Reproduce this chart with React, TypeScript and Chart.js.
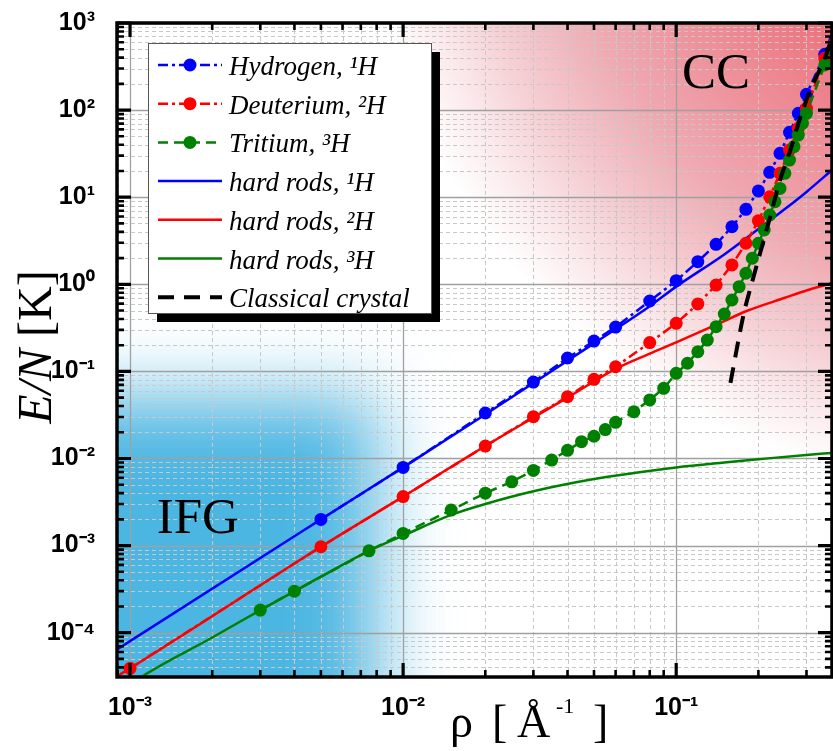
import React, { useEffect, useRef } from 'react';
import { Chart, registerables } from 'chart.js';

Chart.register(...registerables);

// ---------- axis ranges & tick labels ----------
const X_MIN = 8.96e-4;
const X_MAX = 0.372;
const Y_MIN = 3.1e-5;
const Y_MAX = 1000;

const xTickValues = [1e-3, 1e-2, 1e-1];
const xTickLabels = ['10⁻³', '10⁻²', '10⁻¹'];
const yTickValues = [1e-4, 1e-3, 1e-2, 1e-1, 1, 10, 100, 1000];
const yTickLabels = ['10⁻⁴', '10⁻³', '10⁻²', '10⁻¹', '10⁰', '10¹', '10²', '10³'];

const seriesLabels = [
  'Hydrogen, ¹H',
  'Deuterium, ²H',
  'Tritium, ³H',
  'hard rods, ¹H',
  'hard rods, ²H',
  'hard rods, ³H',
  'Classical crystal',
];

// ---------- data (ρ in Å⁻¹, E/N in K) ----------
const hydrogenRho = [0.005, 0.01, 0.02, 0.03, 0.04, 0.05, 0.06, 0.08, 0.1, 0.12, 0.14, 0.16, 0.18, 0.2, 0.22, 0.24, 0.26, 0.28, 0.3, 0.35, 0.4];
const hydrogenE = [0.002, 0.0079, 0.0333, 0.0755, 0.1426, 0.223, 0.323, 0.643, 1.1, 1.82, 2.88, 4.58, 7.26, 11.8, 19.3, 31.9, 55.6, 91.8, 151.7, 437, 1500];

const deuteriumRho = [0.001, 0.005, 0.01, 0.02, 0.03, 0.04, 0.05, 0.06, 0.08, 0.1, 0.12, 0.14, 0.16, 0.18, 0.2, 0.22, 0.24, 0.26, 0.28, 0.3, 0.35, 0.4];
const deuteriumE = [3.9e-5, 9.7e-4, 3.65e-3, 0.0139, 0.0302, 0.0513, 0.081, 0.113, 0.214, 0.356, 0.594, 0.98, 1.67, 2.96, 5.37, 10.1, 18.8, 34.8, 61.8, 105, 394, 1400];

const tritiumRho = [0.003, 0.004, 0.0075, 0.01, 0.015, 0.02, 0.025, 0.03, 0.035, 0.04, 0.045, 0.05, 0.055, 0.06, 0.07, 0.08, 0.09, 0.1, 0.11, 0.12, 0.13, 0.14, 0.15, 0.16, 0.17, 0.18, 0.19, 0.2, 0.21, 0.22, 0.23, 0.24, 0.25, 0.26, 0.27, 0.28, 0.29, 0.3, 0.35, 0.4];
const tritiumE = [1.82e-4, 3.0e-4, 8.7e-4, 1.38e-3, 2.56e-3, 4.0e-3, 5.4e-3, 7.3e-3, 9.6e-3, 0.0124, 0.0156, 0.018, 0.0215, 0.026, 0.0344, 0.047, 0.064, 0.095, 0.124, 0.168, 0.229, 0.326, 0.456, 0.66, 0.94, 1.34, 1.99, 2.96, 4.2, 6.25, 8.87, 12.6, 18.8, 26.7, 38, 51.7, 70.5, 91.8, 330, 1300];

const rodsHRho = [0.0009, 0.001, 0.005, 0.01, 0.02, 0.05, 0.08, 0.1, 0.15, 0.2, 0.25, 0.3, 0.372];
const rodsHE = [6.45e-5, 8.0e-5, 2.0e-3, 7.9e-3, 0.032, 0.21, 0.56, 0.94, 2.2, 4.3, 7.3, 11.5, 20.5];

const rodsDRho = [0.0009, 0.001, 0.005, 0.01, 0.02, 0.03, 0.04, 0.06, 0.08, 0.1, 0.145, 0.18, 0.25, 0.3, 0.372];
const rodsDE = [3.2e-5, 3.9e-5, 9.7e-4, 3.65e-3, 0.0139, 0.0295, 0.05, 0.107, 0.16, 0.215, 0.36, 0.49, 0.7, 0.85, 1.03];

const rodsTRho = [0.001, 0.0011, 0.002, 0.003, 0.005, 0.0075, 0.01, 0.015, 0.02, 0.03, 0.05, 0.07, 0.1, 0.15, 0.2, 0.3, 0.372];
const rodsTE = [2.5e-5, 3.1e-5, 8.8e-5, 1.82e-4, 4.4e-4, 8.7e-4, 1.3e-3, 2.25e-3, 3.0e-3, 4.2e-3, 5.8e-3, 6.8e-3, 7.9e-3, 9.0e-3, 9.8e-3, 0.011, 0.0116];

const crystalRho = [0.158, 0.1764, 0.192, 0.221, 0.24, 0.262, 0.284, 0.31, 0.352, 0.372];
const crystalE = [0.0737, 0.445, 1.22, 5.97, 15.7, 34.8, 80.5, 170, 410, 680];

// region annotations (data coordinates)
const ifgLabelPos = { x: 1.77e-3, y: 1.4e-3 };
const ccLabelPos = { x: 0.14, y: 179 };
const ifgEdge = { x: 8.0e-3, y: 0.05 };

const BLUE = '#0000ff';
const RED = '#ff0000';
const GREEN = '#008000';

const pts = (xs: number[], ys: number[]) => xs.map((x, i) => ({ x, y: ys[i] }));

const labelFor = (vals: number[], labels: string[], v: number) => {
  const i = vals.findIndex((t) => Math.abs(t - v) / t < 1e-6);
  return i >= 0 ? labels[i] : '';
};

const isMajor = (v: number) => {
  const l = Math.log10(v);
  return Math.abs(l - Math.round(l)) < 1e-9;
};

const gridValues = (min: number, max: number) => {
  const out: number[] = [];
  for (let d = Math.floor(Math.log10(min)); d <= Math.ceil(Math.log10(max)); d++) {
    for (let m = 1; m <= 9; m++) {
      const v = m * Math.pow(10, d);
      if (v >= min * 0.9999 && v <= max * 1.0001) out.push(v);
    }
  }
  return out;
};

const bgPlugin = {
  id: 'bgRegions',
  beforeDraw(chart: any) {
    const { ctx, chartArea: a, scales } = chart;
    const xs = scales.x;
    const ys = scales.y;
    ctx.save();
    ctx.fillStyle = '#ffffff';
    ctx.fillRect(0, 0, chart.width, chart.height);
    ctx.beginPath();
    ctx.rect(a.left, a.top, a.right - a.left, a.bottom - a.top);
    ctx.clip();
    // CC (red) region, radial glow from beyond the upper-right corner
    const cx = a.right + 168;
    const cy = a.top - 173;
    const R = 640;
    const g = ctx.createRadialGradient(cx, cy, 0, cx, cy, R);
    g.addColorStop(0, 'rgb(236,105,115)');
    g.addColorStop(0.37, 'rgb(237,112,122)');
    g.addColorStop(0.58, 'rgb(238,150,160)');
    g.addColorStop(0.69, 'rgb(239,170,178)');
    g.addColorStop(0.83, 'rgb(245,207,212)');
    g.addColorStop(0.92, 'rgb(251,234,236)');
    g.addColorStop(1, 'rgb(255,255,255)');
    ctx.fillStyle = g;
    ctx.fillRect(a.left, a.top, a.right - a.left, a.bottom - a.top);
    // IFG (blue) region
    const bx = xs.getPixelForValue(ifgEdge.x);
    const by = ys.getPixelForValue(ifgEdge.y);
    ctx.filter = 'blur(38px)';
    ctx.fillStyle = 'rgb(76,182,226)';
    ctx.fillRect(a.left - 200, by, bx - (a.left - 200), a.bottom + 200 - by);
    ctx.filter = 'none';
    ctx.restore();
  },
};

const gridPlugin = {
  id: 'logGrid',
  beforeDatasetsDraw(chart: any) {
    const { ctx, chartArea: a, scales } = chart;
    const xs = scales.x;
    const ys = scales.y;
    ctx.save();
    ctx.beginPath();
    ctx.rect(a.left, a.top, a.right - a.left, a.bottom - a.top);
    ctx.clip();
    const drawLine = (x1: number, y1: number, x2: number, y2: number, major: boolean) => {
      ctx.beginPath();
      ctx.strokeStyle = major ? 'rgb(160,160,160)' : 'rgb(200,200,200)';
      ctx.lineWidth = major ? 1.3 : 1;
      ctx.setLineDash(major ? [] : [4, 3]);
      ctx.moveTo(x1, y1);
      ctx.lineTo(x2, y2);
      ctx.stroke();
    };
    gridValues(X_MIN, X_MAX).forEach((v) => {
      const p = Math.round(xs.getPixelForValue(v)) + 0.5;
      drawLine(p, a.top, p, a.bottom, isMajor(v));
    });
    gridValues(Y_MIN, Y_MAX).forEach((v) => {
      const p = Math.round(ys.getPixelForValue(v)) + 0.5;
      drawLine(a.left, p, a.right, p, isMajor(v));
    });
    ctx.restore();
  },
};

const annotationsPlugin = {
  id: 'annotations',
  afterDatasetsDraw(chart: any) {
    const { ctx, scales, chartArea: a } = chart;
    const xs = scales.x;
    const ys = scales.y;
    ctx.save();
    ctx.fillStyle = '#000';
    ctx.textAlign = 'center';
    ctx.textBaseline = 'alphabetic';
    ctx.font = '51px "Liberation Serif", "Times New Roman", serif';
    ctx.fillText('IFG', xs.getPixelForValue(ifgLabelPos.x), ys.getPixelForValue(ifgLabelPos.y));
    ctx.fillText('CC', xs.getPixelForValue(ccLabelPos.x), ys.getPixelForValue(ccLabelPos.y));

    // legend
    const bx = a.left + 31;
    const by = a.top + 20;
    const bw = 283;
    const bh = 270;
    ctx.fillStyle = '#000';
    ctx.fillRect(bx + 9, by + 9, bw, bh);
    ctx.fillStyle = '#fff';
    ctx.fillRect(bx, by, bw, bh);
    ctx.strokeStyle = '#555';
    ctx.lineWidth = 1;
    ctx.strokeRect(bx + 0.5, by + 0.5, bw, bh);
    ctx.textAlign = 'left';
    chart.data.datasets.forEach((ds: any, i: number) => {
      const yy = by + 22 + i * 38.7;
      ctx.setLineDash(ds.borderDash || []);
      ctx.strokeStyle = ds.borderColor;
      ctx.lineWidth = ds.borderWidth;
      ctx.beginPath();
      ctx.moveTo(bx + 10, yy);
      ctx.lineTo(bx + 74, yy);
      ctx.stroke();
      ctx.setLineDash([]);
      if (ds.pointRadius > 0) {
        ctx.fillStyle = ds.pointBackgroundColor;
        ctx.beginPath();
        ctx.arc(bx + 42, yy, ds.pointRadius, 0, Math.PI * 2);
        ctx.fill();
      }
      ctx.fillStyle = '#000';
      ctx.font = 'italic 27px "Liberation Serif", "Times New Roman", serif';
      ctx.fillText(ds.label, bx + 81, yy + 10);
    });
    ctx.restore();
  },
};

const framePlugin = {
  id: 'frame',
  afterDraw(chart: any) {
    const { ctx, chartArea: a, scales } = chart;
    const xs = scales.x;
    const ys = scales.y;
    ctx.save();
    ctx.setLineDash([]);
    ctx.strokeStyle = '#000';
    // ticks (inward, all four sides)
    gridValues(X_MIN, X_MAX).forEach((v) => {
      const p = xs.getPixelForValue(v);
      const major = isMajor(v);
      const len = major ? 14 : 7;
      ctx.lineWidth = major ? 3.2 : 2.6;
      ctx.beginPath();
      ctx.moveTo(p, a.bottom);
      ctx.lineTo(p, a.bottom - len);
      ctx.moveTo(p, a.top);
      ctx.lineTo(p, a.top + len);
      ctx.stroke();
    });
    gridValues(Y_MIN, Y_MAX).forEach((v) => {
      const p = ys.getPixelForValue(v);
      const major = isMajor(v);
      const len = major ? 14 : 7;
      ctx.lineWidth = major ? 3.2 : 2.6;
      ctx.beginPath();
      ctx.moveTo(a.left, p);
      ctx.lineTo(a.left + len, p);
      ctx.moveTo(a.right, p);
      ctx.lineTo(a.right - len, p);
      ctx.stroke();
    });
    ctx.lineWidth = 3.5;
    ctx.strokeRect(a.left, a.top, a.right - a.left, a.bottom - a.top);

    // axis titles
    ctx.fillStyle = '#000';
    ctx.textBaseline = 'alphabetic';
    ctx.textAlign = 'left';
    const serif = '"Liberation Serif", "Times New Roman", serif';
    // x title: ρ [ Å⁻¹ ]
    const base = 737;
    ctx.font = `46px ${serif}`;
    ctx.fillText('ρ', 450, base);
    ctx.fillText('[', 492, base);
    ctx.fillText('Å', 517, base);
    ctx.font = `22px ${serif}`;
    ctx.fillText('-1', 556, base - 24);
    ctx.font = `46px ${serif}`;
    ctx.fillText(']', 593, base);

    // y title: E/N [K]
    ctx.translate(51, (a.top + a.bottom) / 2 - 3);
    ctx.rotate(-Math.PI / 2);
    const f1 = `italic 48px ${serif}`;
    const f2 = `48px ${serif}`;
    ctx.font = f1;
    const w1 = ctx.measureText('E/N').width;
    ctx.font = f2;
    const w2 = ctx.measureText(' [K]').width;
    const x0 = -(w1 + w2) / 2;
    ctx.font = f1;
    ctx.fillText('E/N', x0, 0);
    ctx.font = f2;
    ctx.fillText(' [K]', x0 + w1, 0);
    ctx.restore();
  },
};

const zeroPad = (s: any) => {
  s.paddingTop = 0;
  s.paddingBottom = 0;
  s.paddingLeft = 0;
  s.paddingRight = 0;
};

export default function App() {
  const canvasRef = useRef<HTMLCanvasElement | null>(null);

  useEffect(() => {
    if (!canvasRef.current) return;
    const dataSeries = (i: number, color: string, dash: number[], xs: number[], ys: number[], order: number) => ({
      label: seriesLabels[i],
      data: pts(xs, ys),
      showLine: true,
      borderColor: color,
      backgroundColor: color,
      borderWidth: 2.5,
      borderDash: dash,
      pointRadius: 6.5,
      pointHoverRadius: 6.5,
      pointBackgroundColor: color,
      pointBorderColor: color,
      pointBorderWidth: 0,
      tension: 0,
      clip: 0,
      order,
    });
    const curve = (i: number, color: string, dash: number[], width: number, xs: number[], ys: number[], order: number) => ({
      label: seriesLabels[i],
      data: pts(xs, ys),
      showLine: true,
      borderColor: color,
      backgroundColor: color,
      borderWidth: width,
      borderDash: dash,
      pointRadius: 0,
      pointHoverRadius: 0,
      cubicInterpolationMode: 'monotone' as const,
      clip: 0,
      order,
    });

    const tickFont = { family: '"Liberation Sans", Arial, sans-serif', size: 25, weight: 'bold' as const };

    const chart = new Chart(canvasRef.current, {
      type: 'scatter',
      data: {
        datasets: [
          dataSeries(0, BLUE, [10, 4, 3, 4], hydrogenRho, hydrogenE, 3),
          dataSeries(1, RED, [10, 4, 3, 4], deuteriumRho, deuteriumE, 2),
          dataSeries(2, GREEN, [10, 6], tritiumRho, tritiumE, 1),
          curve(3, BLUE, [], 2.5, rodsHRho, rodsHE, 4),
          curve(4, RED, [], 2.5, rodsDRho, rodsDE, 5),
          curve(5, GREEN, [], 2.5, rodsTRho, rodsTE, 6),
          curve(6, '#000000', [16, 10], 4, crystalRho, crystalE, 0),
        ] as any,
      },
      options: {
        animation: false,
        responsive: false,
        maintainAspectRatio: false,
        devicePixelRatio: 1,
        layout: { autoPadding: false, padding: { top: 23, right: 1, left: 0, bottom: 0 } },
        plugins: { legend: { display: false }, tooltip: { enabled: false } },
        events: [],
        scales: {
          x: {
            type: 'logarithmic',
            min: X_MIN,
            max: X_MAX,
            grid: { display: false },
            border: { display: false },
            afterBuildTicks: (axis: any) => {
              axis.ticks = xTickValues.map((value) => ({ value }));
            },
            afterFit: (s: any) => {
              s.height = 74;
              zeroPad(s);
            },
            ticks: {
              autoSkip: false,
              maxRotation: 0,
              padding: 8,
              color: '#000',
              font: tickFont,
              callback: (v: any) => labelFor(xTickValues, xTickLabels, Number(v)),
            },
          },
          y: {
            type: 'logarithmic',
            min: Y_MIN,
            max: Y_MAX,
            grid: { display: false },
            border: { display: false },
            afterBuildTicks: (axis: any) => {
              axis.ticks = yTickValues.map((value) => ({ value }));
            },
            afterFit: (s: any) => {
              s.width = 117;
              zeroPad(s);
            },
            ticks: {
              autoSkip: false,
              padding: 14,
              color: '#000',
              font: tickFont,
              callback: (v: any) => labelFor(yTickValues, yTickLabels, Number(v)),
            },
          },
        },
      } as any,
      plugins: [bgPlugin, gridPlugin, annotationsPlugin, framePlugin],
    });
    return () => chart.destroy();
  }, []);

  return (
    <div style={{ position: 'absolute', left: 0, top: 0, width: 833, height: 751 }}>
      <canvas ref={canvasRef} width={833} height={751} style={{ display: 'block' }} />
    </div>
  );
}
